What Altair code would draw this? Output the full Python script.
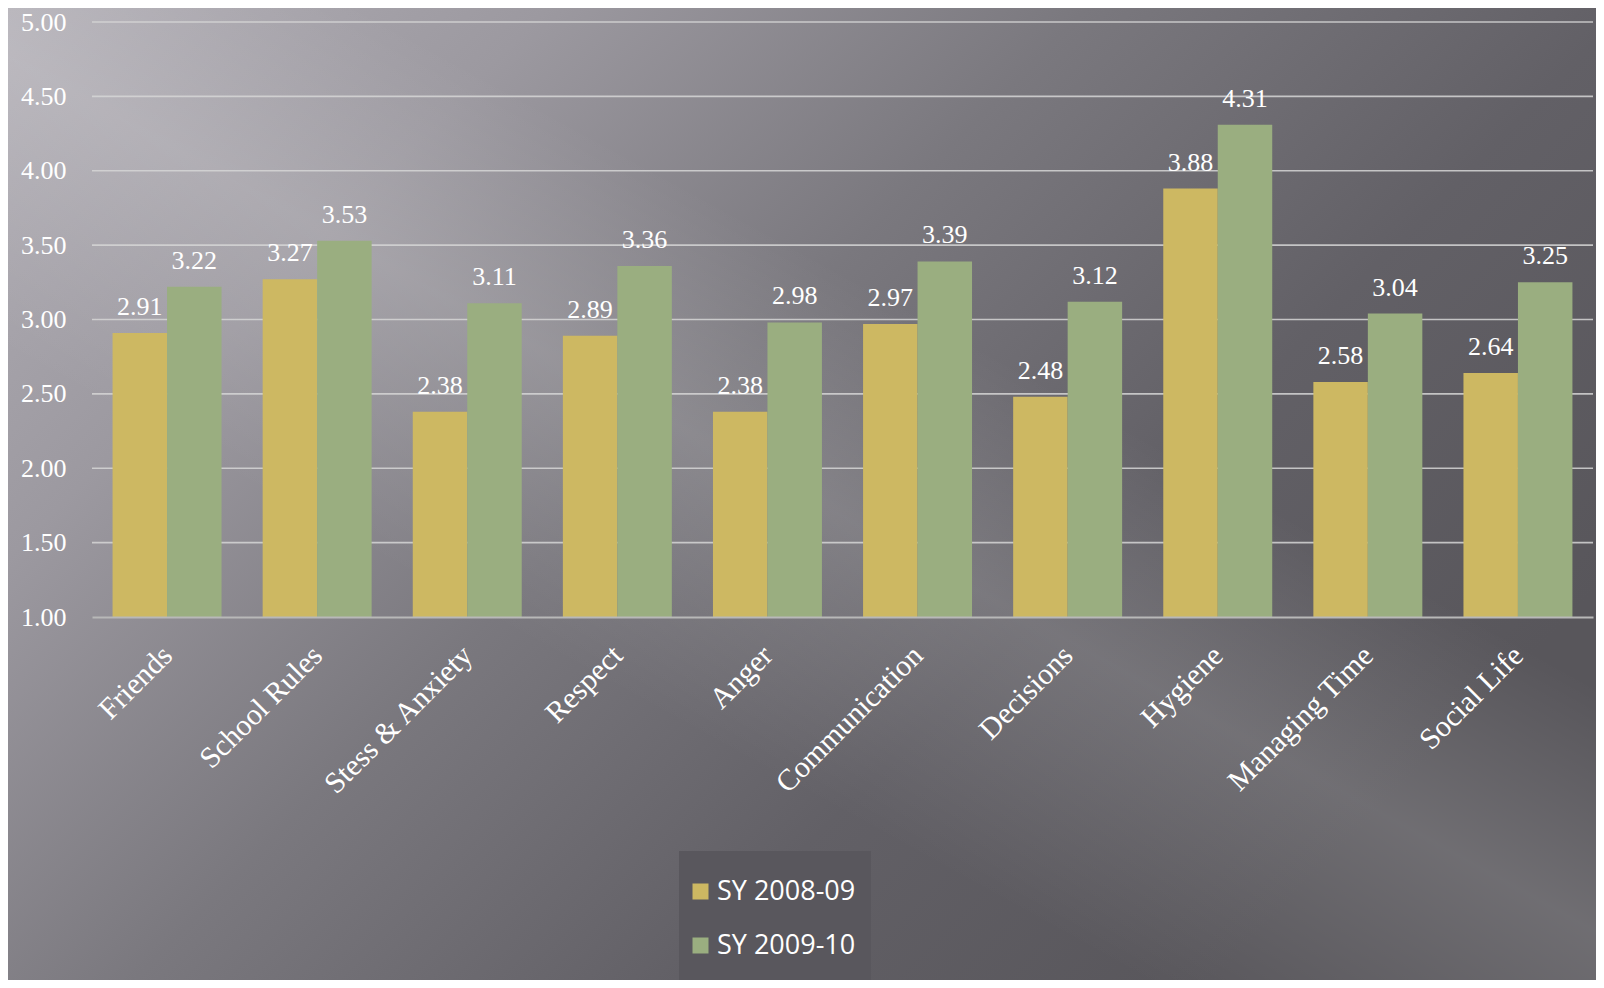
import altair as alt
import pandas as pd

categories = ["Friends", "School Rules", "Stess & Anxiety", "Respect", "Anger",
              "Communication", "Decisions", "Hygiene", "Managing Time", "Social Life"]
series_names = ["SY 2008-09", "SY 2009-10"]
sy_2008_09 = [2.91, 3.27, 2.38, 2.89, 2.38, 2.97, 2.48, 3.88, 2.58, 2.64]
sy_2009_10 = [3.22, 3.53, 3.11, 3.36, 2.98, 3.39, 3.12, 4.31, 3.04, 3.25]
series_colors = ["#cdb862", "#9aae80"]
y_ticks = [1.0, 1.5, 2.0, 2.5, 3.0, 3.5, 4.0, 4.5, 5.0]

rows = []
for c, a, b in zip(categories, sy_2008_09, sy_2009_10):
    rows.append({"category": c, "series": series_names[0], "value": a})
    rows.append({"category": c, "series": series_names[1], "value": b})
df = pd.DataFrame(rows)
grid_df = pd.DataFrame({"value": y_ticks[1:]})
one = pd.DataFrame({"k": [0]})

W, H = 1501, 595
PL, PT, PR, PB = 84, 14, 3, 363

bg = alt.Chart(one).mark_rect(
    color=alt.LinearGradient(
        gradient="linear", x1=0, y1=0, x2=1, y2=0.6,
        stops=[
            alt.GradientStop(color="#b2afb6", offset=0),
            alt.GradientStop(color="#9c99a0", offset=0.25),
            alt.GradientStop(color="#7a787e", offset=0.5),
            alt.GradientStop(color="#626066", offset=0.75),
            alt.GradientStop(color="#58565b", offset=1),
        ],
    )
).encode(x=alt.value(-PL), x2=alt.value(W + PR), y=alt.value(-PT), y2=alt.value(H + PB))

streak = alt.Chart(one).mark_rect(
    color=alt.LinearGradient(
        gradient="linear", x1=0.05, y1=1, x2=0.95, y2=0,
        stops=[
            alt.GradientStop(color="rgba(255,255,255,0)", offset=0.33),
            alt.GradientStop(color="rgba(255,255,255,0.14)", offset=0.5),
            alt.GradientStop(color="rgba(255,255,255,0)", offset=0.64),
        ],
    )
).encode(x=alt.value(-PL), x2=alt.value(W + PR), y=alt.value(-PT), y2=alt.value(H + PB))

y_scale = alt.Scale(domain=[1, 5], nice=False, zero=False)
y_axis = alt.Axis(values=y_ticks, format=".2f", labelFont="Liberation Serif",
                  labelFontSize=26, labelColor="white", ticks=False,
                  domain=False, grid=False, labelPadding=26, zindex=1)

grid = alt.Chart(grid_df).mark_rule(color="#d6d6d6", strokeWidth=1.6, opacity=0.85).encode(
    y=alt.Y("value:Q", scale=y_scale, title=None, axis=y_axis),
    x=alt.value(0), x2=alt.value(W),
)

legend_box = alt.Chart(one).mark_rect(color="#59575d").encode(
    x=alt.value(587), x2=alt.value(779), y=alt.value(829), y2=alt.value(H + PB)
)

x_enc = alt.X(
    "category:N", sort=categories, title=None,
    scale=alt.Scale(paddingInner=0.274, paddingOuter=0.137),
    axis=alt.Axis(labelAngle=-45, labelFont="Liberation Serif", labelFontSize=30,
                  labelColor="white", ticks=False, domainColor="#b8b8b8",
                  domainWidth=2, labelPadding=23, labelOffset=-10, labelLimit=0,
                  zindex=1, grid=False),
)
xoff = alt.XOffset("series:N", sort=series_names)

bars = alt.Chart(df).mark_bar().encode(
    x=x_enc,
    xOffset=xoff,
    y=alt.Y("value:Q", scale=y_scale, title=None, axis=y_axis),
    y2=alt.datum(1),
    color=alt.Color("series:N", sort=series_names,
                    scale=alt.Scale(domain=series_names, range=series_colors),
                    legend=alt.Legend(orient="none", legendX=595, legendY=856, title=None,
                                      symbolType="square", symbolSize=256,
                                      symbolStrokeWidth=0, labelFont="Open Sans",
                                      labelFontSize=27, labelColor="white",
                                      rowPadding=26, labelOffset=3, padding=0)),
)

labels = alt.Chart(df).mark_text(
    font="Liberation Serif", fontSize=26, color="white", baseline="alphabetic", dy=-18
).encode(
    x=alt.X("category:N", sort=categories, title=None),
    xOffset=xoff,
    y=alt.Y("value:Q", scale=y_scale, title=None, axis=y_axis),
    text=alt.Text("value:Q", format=".2f"),
)

chart = alt.layer(bg, streak, grid, legend_box, bars, labels).properties(
    width=W, height=H,
    autosize=alt.AutoSizeParams(type="none"),
    padding={"left": PL, "top": PT, "right": PR, "bottom": PB},
    background="#7a787e",
).configure_view(stroke=None)

chart.save("out.html", embed_options={"renderer": "svg", "actions": False})
